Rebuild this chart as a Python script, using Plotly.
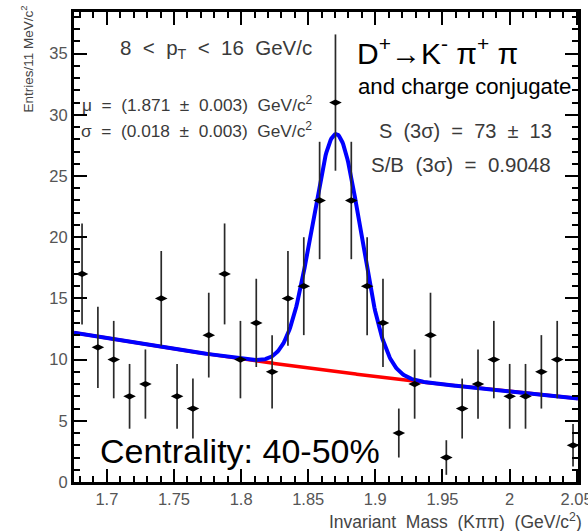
import numpy as np
import plotly.graph_objects as go

# ---- data ----
bin_centers = [1.6815, 1.6933, 1.7051, 1.7169, 1.7287, 1.7405, 1.7523, 1.7641,
               1.7759, 1.7877, 1.7995, 1.8113, 1.8231, 1.8349, 1.8467, 1.8585,
               1.8703, 1.8821, 1.8939, 1.9057, 1.9175, 1.9293, 1.9411, 1.9529,
               1.9647, 1.9765, 1.9883, 2.0001, 2.0119, 2.0237, 2.0355, 2.0473]
counts = [17, 11, 10, 7, 8, 15, 7, 6, 12, 17, 10, 13, 9, 15, 16, 23,
          31, 23, 16, 13, 4, 8, 12, 2, 6, 8, 10, 7, 7, 9, 10, 3]
count_errors = [float(np.sqrt(c)) for c in counts]

x_tick_vals = [1.7, 1.75, 1.8, 1.85, 1.9, 1.95, 2.0, 2.05]
x_tick_text = ["1.7", "1.75", "1.8", "1.85", "1.9", "1.95", "2", "2.05"]
y_tick_vals = [0, 5, 10, 15, 20, 25, 30, 35]

# fit parameters
x_lo, x_hi = 1.6755, 2.051
y_hi = 38.4
bkg_norm, bkg_slope = 12.2, 1.547    # exponential background
sig_amp, sig_mu, sig_sigma = 19.4, 1.871, 0.018

xf = np.linspace(x_lo, x_hi, 600)
bkg = bkg_norm * np.exp(-bkg_slope * (xf - x_lo))
total = bkg + sig_amp * np.exp(-0.5 * ((xf - sig_mu) / sig_sigma) ** 2)

fig = go.Figure()
fig.add_trace(go.Scatter(x=xf, y=bkg, mode="lines",
                         line=dict(color="#ff0000", width=3.5), hoverinfo="skip"))
fig.add_trace(go.Scatter(x=xf, y=total, mode="lines",
                         line=dict(color="#0000ff", width=4), hoverinfo="skip"))
fig.add_trace(go.Scatter(
    x=bin_centers, y=counts, mode="markers",
    marker=dict(symbol="diamond-wide", size=9, color="black"),
    error_y=dict(type="data", array=count_errors, visible=True,
                 color="#2a2a2a", thickness=1.7, width=0),
))
# invisible trace for mirrored (top/right) axes
fig.add_trace(go.Scatter(x=[x_lo], y=[0], xaxis="x2", yaxis="y2", mode="markers",
                         marker=dict(opacity=0), hoverinfo="skip"))

W, H = 588, 531
L, R, T, B = 74, 10, 12, 49
pw, ph = W - L - R, H - T - B


def px(xp):
    return (xp - L) / pw


def py(yp):
    return (H - B - yp) / ph


gray = "#3a3a3a"
font = "Liberation Sans, Arial, sans-serif"
ann = []


def add(text, x, y, size, color=gray, xanchor="left", yanchor="middle", angle=0):
    ann.append(dict(text=text, x=px(x), y=py(y), xref="paper", yref="paper",
                    showarrow=False, xanchor=xanchor, yanchor=yanchor,
                    textangle=angle, font=dict(family=font, size=size, color=color)))


sp = "&nbsp;"
add(f"8 {sp}&lt;{sp} p<sub>T</sub>{sp} &lt;{sp} 16 {sp}GeV/c", 118, 49, 20.5)
add(f"μ{sp} ={sp} (1.871{sp} ±{sp} 0.003){sp} GeV/c<sup>2</sup>", 80, 104, 17.3)
add(f"σ{sp} ={sp} (0.018{sp} ±{sp} 0.003){sp} GeV/c<sup>2</sup>", 79, 130, 17.3)
add("D<sup>+</sup>→K<sup>-</sup> π<sup>+</sup> π", 355, 51, 30, color="black")
add("and charge conjugate", 356, 86, 22.2, color="black")
add(f"S{sp} (3σ){sp} ={sp} 73{sp} ±{sp} 13", 377, 131, 20)
add(f"S/B{sp} (3σ){sp} ={sp} 0.9048", 369, 164, 20.5)
add("Centrality: 40-50%", 98, 451, 34, color="black")
add(f"Invariant{sp} Mass{sp} (Kππ){sp} (GeV/c<sup>2</sup>)", 584, 521, 17.5,
    color="#444444", xanchor="right")
add("Entries/11 MeV/c<sup>2</sup>", 28, 4, 13.5, color="#444444",
    xanchor="center", yanchor="top", angle=-90)

tick_style = dict(ticks="inside", tickcolor="black", tickwidth=1.5, ticklen=13,
                  showgrid=False, zeroline=False, automargin=False)
axis_common = dict(showline=True, linecolor="black", linewidth=3, mirror=True,
                   tickfont=dict(family=font, size=16.5, color="#555555"),
                   **tick_style)

x_minor = dict(ticks="inside", ticklen=6, dtick=0.01, tick0=1.7,
               tickcolor="black", tickwidth=1.5, showgrid=False)
y_minor = dict(ticks="inside", ticklen=6, dtick=1, tick0=0,
               tickcolor="black", tickwidth=1.5, showgrid=False)

fig.update_layout(
    width=W, height=H,
    margin=dict(l=L, r=R, t=T, b=B),
    plot_bgcolor="white", paper_bgcolor="white",
    showlegend=False,
    annotations=ann,
    xaxis=dict(range=[x_lo, x_hi], tickvals=x_tick_vals, ticktext=x_tick_text,
               ticklabeloverflow="allow", minor=x_minor, **axis_common),
    yaxis=dict(range=[0, y_hi], tickvals=y_tick_vals, minor=y_minor, **axis_common),
    xaxis2=dict(range=[x_lo, x_hi], overlaying="x", side="top", anchor="y",
                tickvals=x_tick_vals, showticklabels=False, showline=False,
                minor=x_minor, **tick_style),
    yaxis2=dict(range=[0, y_hi], overlaying="y", side="right", anchor="x",
                tickvals=y_tick_vals, showticklabels=False, showline=False,
                minor=y_minor, **tick_style),
)

fig.write_html("out.html")
